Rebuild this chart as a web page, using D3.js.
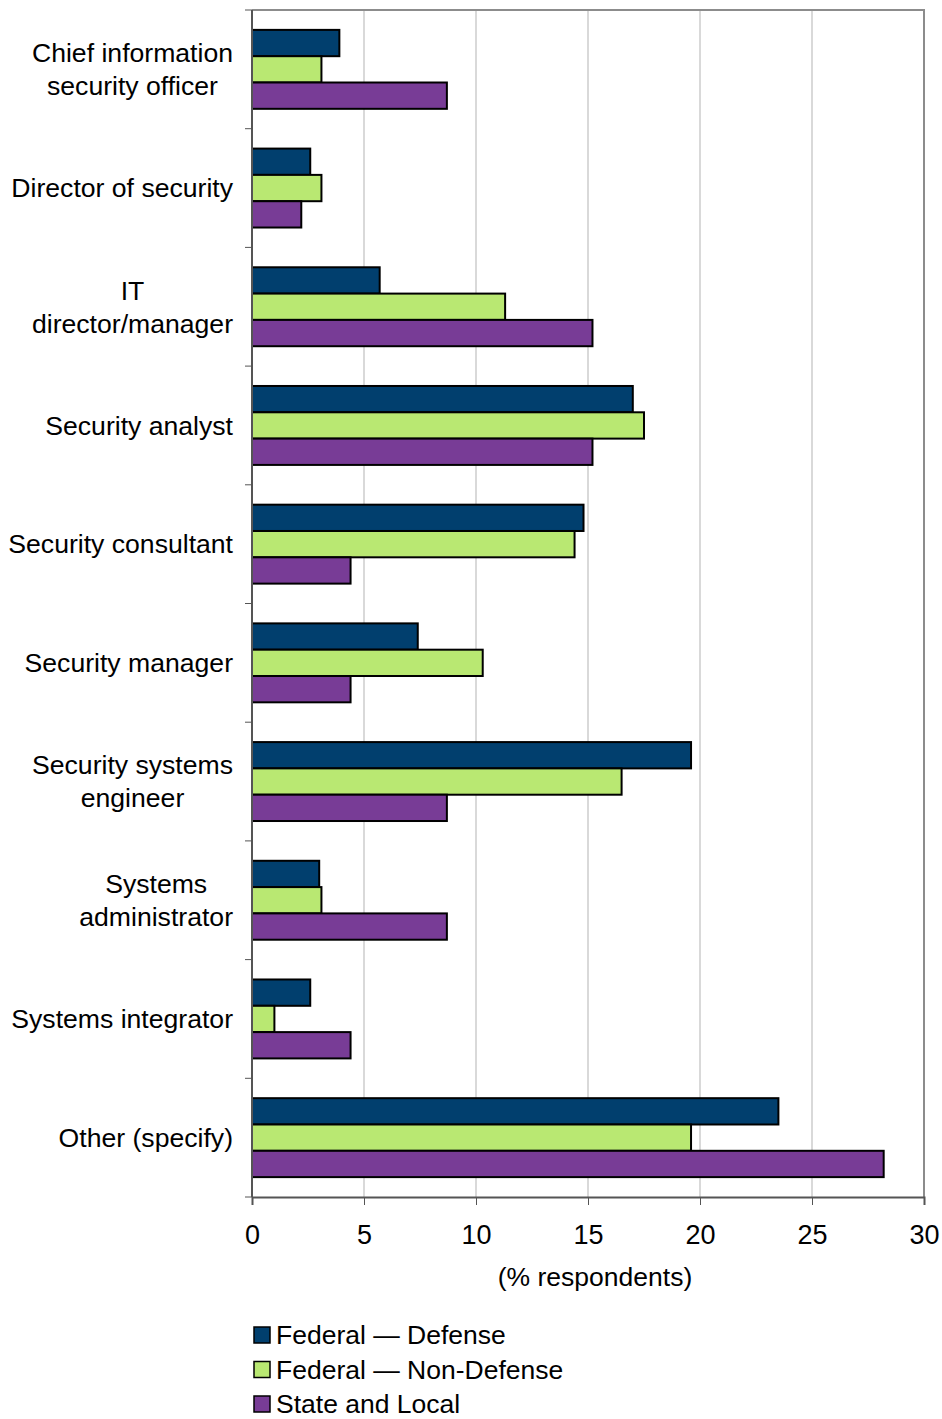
<!DOCTYPE html>
<html lang="en">
<head>
<meta charset="utf-8">
<title>Respondent roles</title>
<script src="https://cdn.jsdelivr.net/npm/d3@7"></script>
<style>
  body { margin: 0; background: #fff; }
  text { font-family: "Liberation Sans", Arial, sans-serif; fill: #000; }
</style>
</head>
<body>
<script>
var categories = [
  ["Chief information", "security officer"],
  ["Director of security"],
  ["IT", "director/manager"],
  ["Security analyst"],
  ["Security consultant"],
  ["Security manager"],
  ["Security systems", "engineer"],
  ["Systems", "administrator"],
  ["Systems integrator"],
  ["Other (specify)"]
];
var seriesNames = ["Federal \u2014 Defense", "Federal \u2014 Non-Defense", "State and Local"];
var defense    = [3.9, 2.6, 5.7, 17.0, 14.8, 7.4, 19.6, 3.0, 2.6, 23.5];
var nonDefense = [3.1, 3.1, 11.3, 17.5, 14.4, 10.3, 16.5, 3.1, 1.0, 19.6];
var stateLocal = [8.7, 2.2, 15.2, 15.2, 4.4, 4.4, 8.7, 8.7, 4.4, 28.2];
var xTicks = [0, 5, 10, 15, 20, 25, 30];
var colors = ["#013f6e", "#b9e872", "#783c96"];

var w = 942, h = 1419;
var plotLeft = 252, plotRight = 924, plotTop = 10, plotBottom = 1197;

var series = [defense, nonDefense, stateLocal];

var svg = d3.select("body").append("svg")
  .attr("width", w).attr("height", h);

var x = d3.scaleLinear().domain([0, 30]).range([plotLeft, plotRight]);
var y = d3.scaleBand().domain(d3.range(categories.length))
  .range([plotTop, plotBottom]).paddingInner(0.335).paddingOuter(0.1675);
var ySub = d3.scaleBand().domain(d3.range(series.length)).range([0, y.bandwidth()]);

// gridlines
svg.append("g").selectAll("line")
  .data(xTicks.slice(1))
  .enter().append("line")
  .attr("x1", function(d) { return x(d); })
  .attr("x2", function(d) { return x(d); })
  .attr("y1", plotTop).attr("y2", plotBottom)
  .attr("stroke", function(d) { return d === 30 ? "#8c8c8c" : "#b3b3b3"; })
  .attr("stroke-width", function(d) { return d === 30 ? 2 : 1; });

svg.append("line")
  .attr("x1", plotLeft).attr("x2", plotRight + 1)
  .attr("y1", plotTop).attr("y2", plotTop)
  .attr("stroke", "#8c8c8c").attr("stroke-width", 2);

// bars
series.forEach(function(vals, s) {
  svg.append("g").selectAll("rect")
    .data(vals)
    .enter().append("rect")
    .attr("x", x(0))
    .attr("y", function(d, i) { return y(i) + ySub(s); })
    .attr("width", function(d) { return x(d) - x(0); })
    .attr("height", ySub.bandwidth())
    .attr("fill", colors[s])
    .attr("stroke", "#000")
    .attr("stroke-width", 2);
});

// y axis with ticks at category boundaries
var step = (plotBottom - plotTop) / categories.length;
var yAx = svg.append("g").attr("stroke", "#555");
yAx.append("line").attr("x1", plotLeft).attr("x2", plotLeft)
  .attr("y1", plotTop).attr("y2", plotBottom)
  .attr("stroke-width", 2);
yAx.selectAll(".yt").data(d3.range(categories.length + 1))
  .enter().append("line").attr("class", "yt")
  .attr("x1", plotLeft - 7).attr("x2", plotLeft)
  .attr("y1", function(d) { return plotTop + d * step; })
  .attr("y2", function(d) { return plotTop + d * step; })
  .attr("stroke-width", 1);

// x axis
var xAxis = d3.axisBottom(x).tickValues(xTicks).tickSize(8).tickPadding(20);
var gx = svg.append("g")
  .attr("transform", "translate(0," + plotBottom + ")")
  .call(xAxis);
gx.select(".domain").attr("stroke", "#555").attr("stroke-width", 2);
gx.selectAll(".tick line").attr("stroke", "#555");
gx.selectAll(".tick text")
  .attr("font-size", "27px")
  .attr("font-family", "Liberation Sans, Arial, sans-serif")
  .attr("fill", "#000");

svg.append("text")
  .attr("x", 595).attr("y", 1286)
  .attr("text-anchor", "middle").attr("font-size", "26.5px")
  .text("(% respondents)");

// category labels: block right-aligned, lines centered within block
var labelRight = 233, fs = 26.6, lh = 33;
var labels = svg.append("g");
categories.forEach(function(lines, i) {
  var cy = y(i) + y.bandwidth() / 2;
  var g = labels.append("g");
  var texts = lines.map(function(t, j) {
    return g.append("text")
      .attr("font-size", fs + "px")
      .attr("text-anchor", "middle")
      .attr("y", cy + (j - (lines.length - 1) / 2) * lh + fs * 0.35)
      .text(t);
  });
  var maxW = d3.max(texts, function(t) { return t.node().getComputedTextLength(); });
  texts.forEach(function(t) { t.attr("x", labelRight - maxW / 2); });
});

// legend
var legend = svg.append("g");
seriesNames.forEach(function(name, i) {
  var ly = 1335 + i * 34.5;
  legend.append("rect")
    .attr("x", 254).attr("y", ly - 8)
    .attr("width", 16).attr("height", 16)
    .attr("fill", colors[i]).attr("stroke", "#000").attr("stroke-width", 1.5);
  legend.append("text")
    .attr("x", 276).attr("y", ly + 9)
    .attr("font-size", "26.5px")
    .text(name);
});
</script>
</body>
</html>
